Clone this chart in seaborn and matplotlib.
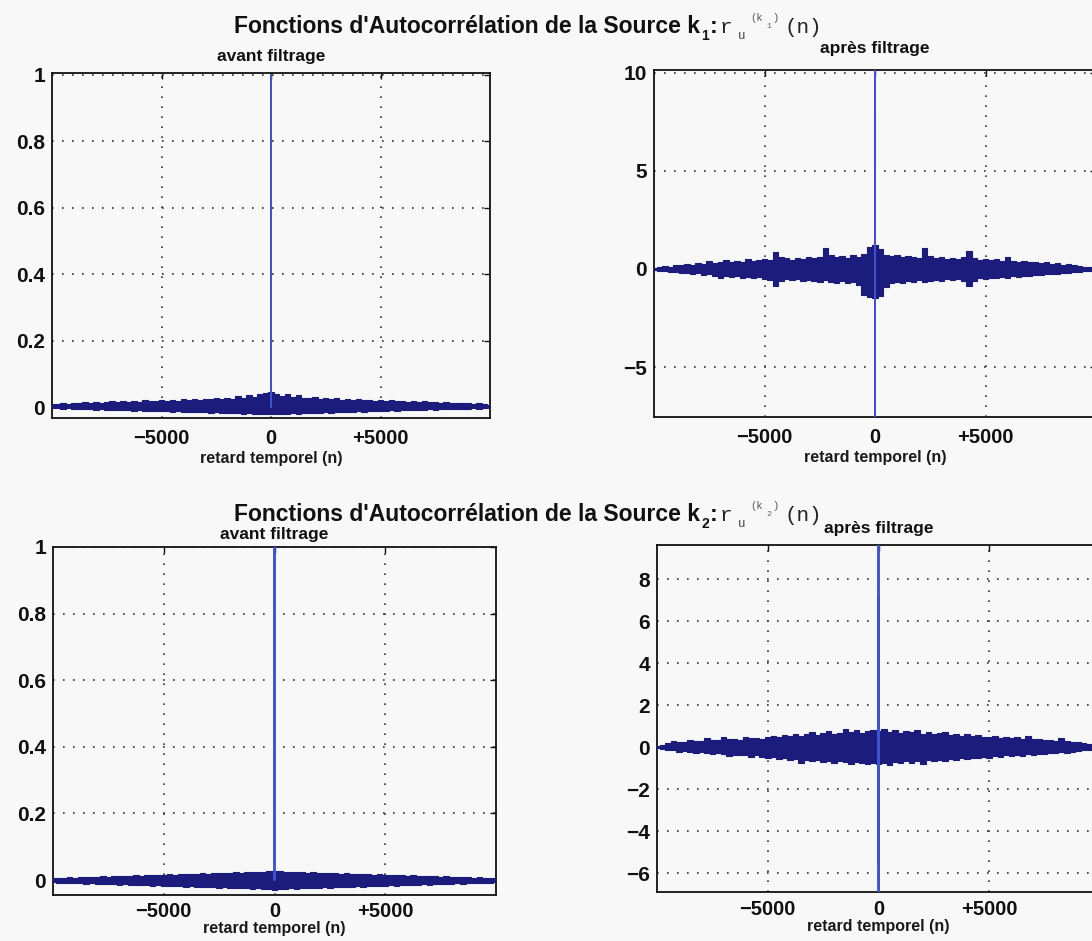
import numpy as np
import pandas as pd
import matplotlib
matplotlib.use("Agg")
import matplotlib.pyplot as plt
import seaborn as sns

W, H = 1092, 941

# Lag axis of the autocorrelation envelopes (step 250)
lags = np.arange(-10000, 10001, 250)

# ---- Source k1, before filtering: noise envelope around 0, peak 1 at lag 0
k1_avant_haut = [0.008, 0.010, 0.012, 0.009, 0.013, 0.011, 0.014, 0.012, 0.016, 0.013,
                 0.015, 0.019, 0.014, 0.017, 0.015, 0.018, 0.016, 0.020, 0.017, 0.019,
                 0.021, 0.018, 0.022, 0.019, 0.023, 0.020, 0.024, 0.021, 0.025, 0.023,
                 0.026, 0.024, 0.028, 0.025, 0.033, 0.027, 0.036, 0.030, 0.038, 0.042,
                 0.044,
                 0.040, 0.034, 0.039, 0.030, 0.035, 0.028, 0.026, 0.029, 0.025, 0.027,
                 0.024, 0.026, 0.022, 0.025, 0.021, 0.023, 0.020, 0.022, 0.019, 0.021,
                 0.018, 0.020, 0.017, 0.019, 0.016, 0.018, 0.015, 0.017, 0.014, 0.015,
                 0.013, 0.014, 0.012, 0.013, 0.011, 0.012, 0.010, 0.011, 0.009, 0.007]
k1_avant_bas = [-0.003, -0.004, -0.005, -0.004, -0.006, -0.005, -0.007, -0.006, -0.008, -0.007,
                -0.008, -0.009, -0.008, -0.010, -0.009, -0.011, -0.010, -0.012, -0.011, -0.012,
                -0.013, -0.012, -0.014, -0.013, -0.015, -0.014, -0.016, -0.015, -0.016, -0.017,
                -0.016, -0.018, -0.017, -0.019, -0.018, -0.020, -0.019, -0.021, -0.020, -0.022,
                -0.022,
                -0.021, -0.020, -0.021, -0.019, -0.020, -0.018, -0.019, -0.017, -0.018, -0.016,
                -0.017, -0.015, -0.016, -0.014, -0.015, -0.013, -0.014, -0.012, -0.013, -0.011,
                -0.012, -0.010, -0.011, -0.009, -0.010, -0.009, -0.008, -0.009, -0.007, -0.008,
                -0.006, -0.007, -0.006, -0.005, -0.006, -0.005, -0.004, -0.005, -0.004, -0.003]
k1_avant_pic_lags = [-1, 0, 1]
k1_avant_pic_vals = [0.0, 1.0, 0.0]

# ---- Source k1, after filtering
k1_apres_haut = [0.05, 0.10, 0.15, 0.12, 0.20, 0.18, 0.25, 0.22, 0.30, 0.26,
                 0.40, 0.32, 0.35, 0.48, 0.36, 0.42, 0.38, 0.50, 0.40, 0.46,
                 0.52, 0.44, 0.85, 0.62, 0.55, 0.48, 0.58, 0.52, 0.60, 0.55,
                 0.62, 1.05, 0.70, 0.60, 0.66, 0.58, 0.70, 0.62, 0.75, 1.10,
                 1.20,
                 1.00, 0.72, 0.65, 0.70, 0.60, 0.66, 0.62, 0.58, 1.05, 0.65,
                 0.56, 0.60, 0.52, 0.58, 0.50, 0.60, 0.90, 0.55, 0.48, 0.52,
                 0.44, 0.50, 0.40, 0.62, 0.42, 0.36, 0.40, 0.34, 0.38, 0.30,
                 0.34, 0.26, 0.30, 0.22, 0.24, 0.18, 0.15, 0.12, 0.10, 0.05]
k1_apres_bas = [-0.05, -0.10, -0.12, -0.16, -0.14, -0.20, -0.18, -0.25, -0.22, -0.30,
                -0.28, -0.34, -0.45, -0.36, -0.40, -0.35, -0.44, -0.40, -0.48, -0.42,
                -0.50, -0.55, -0.88, -0.60, -0.52, -0.58, -0.50, -0.62, -0.55, -0.60,
                -0.68, -0.58, -0.65, -0.72, -0.62, -0.70, -0.66, -0.80, -1.35, -1.45,
                -1.50,
                -1.40, -0.90, -0.70, -0.66, -0.72, -0.62, -0.68, -0.58, -0.65, -0.60,
                -0.55, -0.62, -0.52, -0.58, -0.50, -0.60, -0.85, -0.62, -0.48, -0.50,
                -0.45, -0.48, -0.40, -0.44, -0.38, -0.40, -0.34, -0.36, -0.30, -0.32,
                -0.27, -0.28, -0.24, -0.22, -0.18, -0.16, -0.14, -0.10, -0.08, -0.04]
k1_apres_pic_lags = [-2, -1, 0, 1, 2]
k1_apres_pic_vals = [8.3, -8.0, 12.0, -8.0, 8.3]

# ---- Source k2, before filtering
k2_avant_haut = [0.005, 0.007, 0.006, 0.008, 0.007, 0.009, 0.008, 0.010, 0.009, 0.011,
                 0.010, 0.012, 0.011, 0.013, 0.012, 0.014, 0.013, 0.015, 0.014, 0.016,
                 0.016, 0.017, 0.016, 0.018, 0.017, 0.019, 0.018, 0.020, 0.019, 0.021,
                 0.020, 0.022, 0.021, 0.023, 0.022, 0.024, 0.023, 0.025, 0.024, 0.027,
                 0.028,
                 0.026, 0.024, 0.025, 0.023, 0.024, 0.022, 0.023, 0.021, 0.022, 0.020,
                 0.021, 0.019, 0.020, 0.018, 0.019, 0.017, 0.018, 0.016, 0.017, 0.015,
                 0.016, 0.014, 0.015, 0.013, 0.014, 0.012, 0.013, 0.011, 0.012, 0.010,
                 0.011, 0.009, 0.010, 0.008, 0.009, 0.007, 0.008, 0.006, 0.007, 0.005]
k2_avant_bas = [-0.007, -0.008, -0.009, -0.008, -0.010, -0.009, -0.011, -0.010, -0.012, -0.011,
                -0.013, -0.012, -0.014, -0.013, -0.015, -0.014, -0.016, -0.015, -0.017, -0.016,
                -0.018, -0.017, -0.019, -0.018, -0.020, -0.019, -0.021, -0.020, -0.022, -0.021,
                -0.023, -0.022, -0.024, -0.023, -0.025, -0.024, -0.026, -0.025, -0.027, -0.028,
                -0.029,
                -0.027, -0.026, -0.025, -0.026, -0.024, -0.025, -0.023, -0.024, -0.022, -0.023,
                -0.021, -0.022, -0.020, -0.021, -0.019, -0.020, -0.018, -0.019, -0.017, -0.018,
                -0.016, -0.017, -0.015, -0.016, -0.014, -0.015, -0.013, -0.014, -0.012, -0.013,
                -0.011, -0.012, -0.010, -0.011, -0.009, -0.010, -0.008, -0.009, -0.008, -0.007]
k2_avant_pic_lags = [-1, 0, 1]
k2_avant_pic_vals = [0.0, 1.0, 0.0]

# ---- Source k2, after filtering
k2_apres_haut = [0.06, 0.12, 0.18, 0.30, 0.22, 0.26, 0.35, 0.28, 0.30, 0.45,
                 0.32, 0.36, 0.48, 0.38, 0.40, 0.36, 0.50, 0.42, 0.45, 0.40,
                 0.48, 0.55, 0.50, 0.58, 0.52, 0.62, 0.55, 0.60, 0.72, 0.58,
                 0.65, 0.78, 0.62, 0.68, 0.85, 0.70, 0.82, 0.66, 0.75, 0.80,
                 0.78,
                 0.85, 0.72, 0.80, 0.68, 0.76, 0.70, 0.82, 0.64, 0.70, 0.60,
                 0.66, 0.72, 0.58, 0.62, 0.55, 0.60, 0.52, 0.56, 0.50, 0.48,
                 0.52, 0.45, 0.50, 0.42, 0.46, 0.40, 0.55, 0.38, 0.40, 0.34,
                 0.36, 0.30, 0.44, 0.28, 0.26, 0.24, 0.20, 0.16, 0.12, 0.06]
k2_apres_bas = [-0.05, -0.10, -0.15, -0.12, -0.22, -0.18, -0.25, -0.30, -0.24, -0.28,
                -0.35, -0.30, -0.33, -0.42, -0.36, -0.40, -0.38, -0.45, -0.40, -0.48,
                -0.52, -0.46, -0.55, -0.50, -0.62, -0.58, -0.75, -0.60, -0.66, -0.62,
                -0.70, -0.65, -0.78, -0.68, -0.72, -0.80, -0.70, -0.76, -0.82, -0.74,
                -0.80,
                -0.76, -0.85, -0.70, -0.78, -0.68, -0.74, -0.66, -0.80, -0.62, -0.68,
                -0.60, -0.64, -0.56, -0.60, -0.52, -0.56, -0.50, -0.54, -0.46, -0.50,
                -0.44, -0.48, -0.40, -0.44, -0.38, -0.42, -0.35, -0.38, -0.32, -0.34,
                -0.30, -0.28, -0.25, -0.26, -0.22, -0.20, -0.16, -0.14, -0.10, -0.05]
k2_apres_pic_lags = [-2, -1, 0, 1, 2]
k2_apres_pic_vals = [7.2, -5.5, 11.0, -8.0, 7.2]

xticks = [-5000, 0, 5000]
xtick_labels = ["\u22125000", "0", "+5000"]

sns.set_theme(style="white")
plt.rcParams["font.family"] = ["Liberation Sans", "DejaVu Sans"]

fig = plt.figure(figsize=(W / 100, H / 100), dpi=100)
bg = "#f8f8f9"
fig.patch.set_facecolor(bg)

NAVY = "#1b1c7c"
SPIKE = "#3f52d4"


def fx(px):
    return px / W


def fy(py):
    return 1 - py / H


def panel(box, ylim, yticks, ylabels, haut, bas, pic_lags, pic_vals,
          subtitle, sub_y, xpad, labpad):
    x0, x1, y0, y1 = box
    ax = fig.add_axes([fx(x0), fy(y1), (x1 - x0) / W, (y1 - y0) / H])
    ax.set_facecolor(bg)
    df = pd.DataFrame({"lag": lags, "haut": haut, "bas": bas})
    ax.fill_between(df["lag"], df["bas"], df["haut"], step="mid",
                    color=NAVY, lw=0, zorder=3)
    sns.lineplot(data=df, x="lag", y="haut", ax=ax, color=NAVY, lw=0.8,
                 drawstyle="steps-mid", zorder=3)
    sns.lineplot(data=df, x="lag", y="bas", ax=ax, color=NAVY, lw=0.8,
                 drawstyle="steps-mid", zorder=3)
    pic = pd.DataFrame({"lag": pic_lags, "val": pic_vals})
    sns.lineplot(data=pic, x="lag", y="val", ax=ax, color=SPIKE, lw=1.4,
                 sort=False, zorder=4)
    ax.set_xlim(-10000, 10000)
    ax.set_ylim(*ylim)
    ax.set_xticks(xticks)
    ax.set_xticklabels(xtick_labels)
    ax.set_yticks(yticks)
    ax.set_yticklabels(ylabels)
    ax.set_xlabel("retard temporel (n)", fontsize=11.5, fontweight="bold",
                  labelpad=labpad, color="#1a1a1a")
    ax.set_ylabel("")
    ax.grid(True, color="#333333", linestyle=(0, (1, 5)), lw=1.2, zorder=1)
    ax.tick_params(direction="in", length=4, width=1, top=True, right=True,
                   colors="#111111")
    ax.tick_params(axis="x", pad=xpad, labelsize=14.5)
    ax.tick_params(axis="y", pad=5, labelsize=15)
    for lab in ax.get_xticklabels() + ax.get_yticklabels():
        lab.set_fontweight("bold")
    for s in ax.spines.values():
        s.set_color("#111111")
        s.set_linewidth(1.3)
        s.set_visible(True)
    fig.text(fx((x0 + x1) / 2), fy(sub_y), subtitle, ha="center", va="center",
             fontsize=12.5, fontweight="bold", color="#111111")
    return ax


panel((52, 490, 73, 418), (-0.033, 1.006), [0, 0.2, 0.4, 0.6, 0.8, 1],
      ["0", "0.2", "0.4", "0.6", "0.8", "1"],
      k1_avant_haut, k1_avant_bas, k1_avant_pic_lags, k1_avant_pic_vals,
      "avant filtrage", 57, 8, 2)
panel((654, 1096, 70, 417), (-7.55, 10.15), [-5, 0, 5, 10],
      ["\u22125", "0", "5", "10"],
      k1_apres_haut, k1_apres_bas, k1_apres_pic_lags, k1_apres_pic_vals,
      "après filtrage", 48, 8, 2)
panel((53, 496, 547, 895), (-0.045, 1.0), [0, 0.2, 0.4, 0.6, 0.8, 1],
      ["0", "0.2", "0.4", "0.6", "0.8", "1"],
      k2_avant_haut, k2_avant_bas, k2_avant_pic_lags, k2_avant_pic_vals,
      "avant filtrage", 534, 5, 0)
panel((657, 1100, 545, 892), (-6.9, 9.62), [-6, -4, -2, 0, 2, 4, 6, 8],
      ["\u22126", "\u22124", "\u22122", "0", "2", "4", "6", "8"],
      k2_apres_haut, k2_apres_bas, k2_apres_pic_lags, k2_apres_pic_vals,
      "après filtrage", 529, 6, 0)


def titre(base_y, idx):
    mono = ["Liberation Mono", "DejaVu Sans Mono"]
    fig.text(fx(700), fy(base_y), "Fonctions d'Autocorrélation de la Source k",
             ha="right", va="baseline", fontsize=16.5, fontweight="bold",
             color="#111111")
    fig.text(fx(701), fy(base_y + 7), idx, ha="left", va="baseline",
             fontsize=10, fontweight="bold", color="#111111")
    fig.text(fx(710), fy(base_y), ":", ha="left", va="baseline",
             fontsize=16.5, fontweight="bold", color="#111111")
    fig.text(fx(720), fy(base_y), "r", ha="left", va="baseline",
             fontsize=15, family=mono, color="#222222")
    fig.text(fx(738), fy(base_y + 6), "u", ha="left", va="baseline",
             fontsize=9, family=mono, color="#444444")
    fig.text(fx(750), fy(base_y - 12), "(k", ha="left", va="baseline",
             fontsize=7.5, family=mono, color="#555555")
    fig.text(fx(766), fy(base_y - 5), idx, ha="left", va="baseline",
             fontsize=6, family=mono, color="#666666")
    fig.text(fx(772), fy(base_y - 12), ")", ha="left", va="baseline",
             fontsize=7.5, family=mono, color="#555555")
    fig.text(fx(784), fy(base_y), "(n)", ha="left", va="baseline",
             fontsize=15, family=mono, color="#222222")


titre(33, "1")
titre(521, "2")

fig.savefig("out.png", dpi=100, facecolor=bg)
